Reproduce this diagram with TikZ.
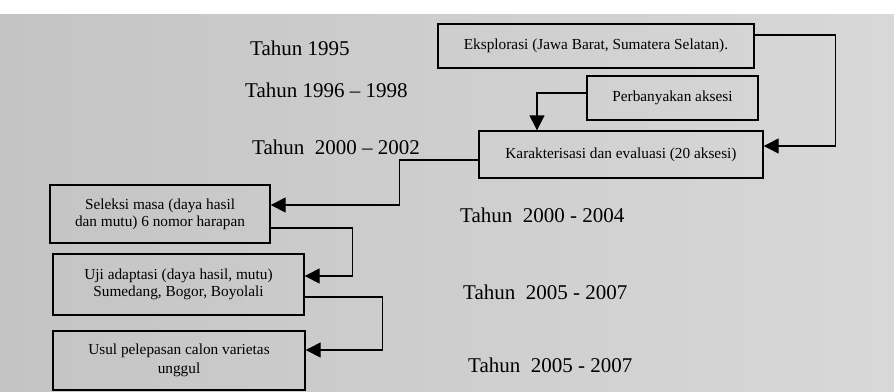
\documentclass[tikz,border=0pt]{standalone}
\usepackage{fontspec}
\setmainfont{Liberation Serif}
\usetikzlibrary{arrows.meta}
\definecolor{bgl}{RGB}{196,196,196}
\definecolor{bgr}{RGB}{216,216,216}
\begin{document}
\begin{tikzpicture}[x=1pt,y=-1pt,
  box/.style={draw=black,line width=1.4pt,inner sep=0pt,align=center,
    font=\fontsize{15.3}{17}\selectfont},
  yearlbl/.style={anchor=west,inner sep=0pt,font=\fontsize{21}{24}\selectfont},
  arr/.style={draw=black,line width=1.4pt,-{Triangle[length=15pt,width=15pt]}}]
\useasboundingbox (0,0) rectangle (894,391);
\fill[white] (0,0) rectangle (894,14);
\shade[left color=bgl,right color=bgr] (0,14) rectangle (894,391);
% boxes
\node[box,minimum width=316pt,minimum height=44pt] (E) at (596,46) {Eksplorasi (Jawa Barat, Sumatera Selatan).};
\node[box,minimum width=171pt,minimum height=44pt] (P) at (672.5,98) {Perbanyakan aksesi};
\node[box,minimum width=284pt,minimum height=47pt] (K) at (621,154.5) {Karakterisasi dan evaluasi (20 aksesi)};
\node[box,minimum width=220pt,minimum height=58pt] (S) at (160,214) {Seleksi masa (daya hasil\\dan mutu) 6 nomor harapan};
\node[box,minimum width=251pt,minimum height=61pt] (U) at (178.5,284.5) {Uji adaptasi (daya hasil, mutu)\\Sumedang, Bogor, Boyolali};
\node[box,minimum width=252pt,minimum height=59pt] (V) at (179,360.5) {Usul pelepasan calon varietas\\[2pt]unggul};
% year labels
\node[yearlbl] (t1) at (250,48) {Tahun 1995};
\node[yearlbl] (t2) at (245,90) {Tahun 1996 -- 1998};
\node[yearlbl] (t3) at (252,147) {Tahun\ \ 2000 -- 2002};
\node[yearlbl] (t4) at (460,215) {Tahun\ \ 2000 - 2004};
\node[yearlbl] (t5) at (463,292) {Tahun\ \ 2005 - 2007};
\node[yearlbl] (t6) at (468,365) {Tahun\ \ 2005 - 2007};
% connectors
\draw[arr] ([yshift=11pt]E.east) -- ++(81,0) |- ([yshift=8.5pt]K.east);
\draw[arr] ([yshift=5pt]P.west) -| ([xshift=-84pt]K.north);
\draw[arr] ([yshift=-5.5pt]K.west) -- ++(-79,0) |- ([yshift=9pt]S.east);
\draw[arr] ([yshift=-14pt]S.east) -- ++(82,0) |- ([yshift=8.5pt]U.east);
\draw[arr] ([yshift=-12.5pt]U.east) -- ++(78,0) |- ([yshift=10.5pt]V.east);
\end{tikzpicture}
\end{document}
